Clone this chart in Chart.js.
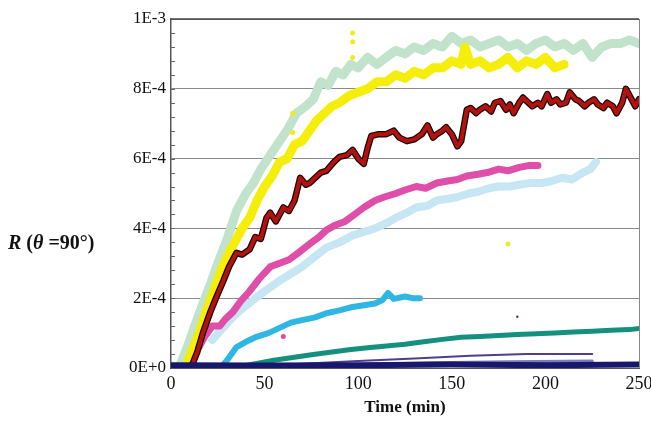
<!DOCTYPE html>
<html>
<head>
<meta charset="utf-8">
<script src="https://cdn.jsdelivr.net/npm/chart.js@4/dist/chart.umd.min.js"></script>
<style>
  html, body { margin: 0; padding: 0; background: #ffffff; }
  #wrap { position: relative; width: 651px; height: 421px; }
  #ylabel {
    position: absolute; left: 8px; top: 231px;
    font-family: "Liberation Serif", "DejaVu Serif", serif;
    font-weight: bold; font-size: 20px; color: #111; white-space: nowrap;
  }
</style>
</head>
<body>
<div id="wrap">
  <canvas id="chart" width="651" height="421"></canvas>
  <div id="ylabel"><i>R</i> (<i>θ</i> =90°)</div>
</div>
<script>
// Werte in Einheiten von 1E-4, Zeit in Minuten
const yTickLabels = ['0E+0', '2E-4', '4E-4', '6E-4', '8E-4', '1E-3'];
const xTickLabels = ['0', '50', '100', '150', '200', '250'];

const greenT = [5, 8, 12, 16, 21, 25, 30, 35, 40, 44, 48, 53, 58, 63, 67, 72, 76, 80, 84, 88, 92, 96, 100, 105, 110, 115, 120, 125, 130, 135, 140, 145, 150, 155, 160, 165, 170, 175, 180, 185, 190, 195, 200, 205, 210, 215, 220, 225, 230, 235, 240, 245, 250];
const greenR = [0.1, 0.5, 1.1, 1.7, 2.4, 3.0, 3.7, 4.5, 5.0, 5.3, 5.7, 6.1, 6.5, 6.9, 7.3, 7.5, 7.7, 8.2, 8.1, 8.5, 8.4, 8.7, 8.6, 8.9, 8.7, 8.9, 9.1, 9.0, 9.2, 9.1, 9.3, 9.2, 9.5, 9.3, 9.4, 9.2, 9.3, 9.4, 9.2, 9.3, 9.1, 9.3, 9.4, 9.2, 9.3, 9.1, 9.3, 8.9, 9.2, 9.3, 9.3, 9.4, 9.3];

const yellowT = [9, 12, 15, 18, 22, 26, 30, 34, 38, 42, 46, 50, 54, 58, 62, 66, 70, 74, 78, 82, 86, 90, 95, 100, 105, 110, 115, 120, 125, 130, 135, 140, 145, 150, 155, 157, 160, 165, 170, 175, 180, 185, 190, 195, 200, 205, 210];
const yellowR = [0.2, 0.6, 1.0, 1.5, 2.1, 2.7, 3.2, 3.6, 4.0, 4.3, 4.8, 5.2, 5.5, 5.9, 6.0, 6.4, 6.5, 6.8, 7.1, 7.3, 7.5, 7.6, 7.8, 7.9, 8.0, 8.2, 8.2, 8.4, 8.3, 8.5, 8.4, 8.6, 8.6, 8.8, 8.7, 9.2, 8.7, 8.8, 8.6, 8.7, 8.9, 8.6, 8.8, 8.7, 8.9, 8.6, 8.7];

const redT = [11, 14, 17, 21, 24, 28, 31, 35, 38, 42, 45, 48, 51, 53, 56, 60, 63, 66, 69, 72, 74, 78, 80, 83, 87, 90, 94, 97, 100, 103, 105, 107, 111, 115, 119, 122, 126, 130, 134, 137, 140, 142, 145, 147, 150, 153, 155, 158, 160, 163, 165, 168, 171, 173, 176, 179, 181, 183, 186, 188, 191, 193, 196, 198, 201, 203, 206, 208, 211, 213, 216, 218, 221, 223, 226, 228, 231, 233, 236, 238, 241, 243, 246, 248, 250];
const redR = [0.05, 0.45, 1.0, 1.6, 2.0, 2.5, 2.9, 3.3, 3.25, 3.4, 3.75, 3.7, 4.3, 4.45, 4.2, 4.6, 4.5, 4.8, 5.45, 5.25, 5.3, 5.5, 5.6, 5.65, 5.9, 6.05, 6.1, 6.25, 6.0, 5.85, 6.3, 6.65, 6.7, 6.7, 6.8, 6.6, 6.5, 6.55, 6.7, 6.95, 6.6, 6.7, 6.8, 6.9, 6.7, 6.35, 6.5, 7.4, 7.45, 7.3, 7.4, 7.5, 7.35, 7.6, 7.65, 7.4, 7.55, 7.3, 7.6, 7.75, 7.6, 7.5, 7.6, 7.5, 7.85, 7.6, 7.7, 7.55, 7.6, 7.9, 7.7, 7.65, 7.5, 7.6, 7.7, 7.55, 7.45, 7.6, 7.5, 7.3, 7.6, 8.0, 7.7, 7.5, 7.7];

const pinkT = [15, 18, 22, 26, 29, 33, 37, 42, 47, 53, 58, 63, 68, 74, 79, 83, 88, 93, 98, 103, 109, 114, 120, 125, 131, 136, 142, 147, 153, 158, 164, 169, 175, 180, 186, 191, 196];
const pinkR = [0.6, 0.9, 1.2, 1.2, 1.4, 1.6, 1.9, 2.2, 2.55, 2.9, 3.0, 3.1, 3.3, 3.55, 3.75, 3.95, 4.1, 4.2, 4.4, 4.6, 4.8, 4.9, 5.0, 5.1, 5.2, 5.15, 5.3, 5.35, 5.4, 5.5, 5.55, 5.6, 5.7, 5.65, 5.75, 5.8, 5.8];

const skyT = [22, 27, 32, 38, 44, 50, 58, 64, 70, 77, 83, 90, 97, 103, 109, 115, 120, 126, 131, 137, 142, 148, 153, 159, 164, 170, 175, 181, 186, 192, 198, 203, 209, 214, 220, 224, 227];
const skyR = [0.8, 1.1, 1.4, 1.7, 1.95, 2.2, 2.5, 2.7, 2.9, 3.2, 3.45, 3.6, 3.8, 3.9, 4.0, 4.15, 4.3, 4.45, 4.6, 4.65, 4.8, 4.85, 4.9, 5.0, 5.05, 5.15, 5.2, 5.2, 5.25, 5.3, 5.3, 5.35, 5.45, 5.4, 5.6, 5.7, 5.9];

const cyanT = [28, 31, 35, 40, 46, 52, 58, 64, 70, 77, 83, 90, 97, 103, 109, 113, 116, 119, 125, 129, 133];
const cyanR = [0.1, 0.3, 0.6, 0.75, 0.9, 1.0, 1.15, 1.3, 1.37, 1.45, 1.57, 1.65, 1.75, 1.8, 1.85, 1.95, 2.15, 1.98, 2.05, 2.0, 2.0];

const tealT = [38, 45, 55, 65, 75, 85, 95, 105, 115, 125, 135, 145, 155, 165, 175, 185, 195, 205, 215, 225, 235, 245, 250];
const tealR = [0.05, 0.12, 0.22, 0.3, 0.38, 0.45, 0.52, 0.58, 0.63, 0.68, 0.75, 0.82, 0.88, 0.9, 0.93, 0.96, 0.98, 1.0, 1.03, 1.05, 1.08, 1.1, 1.13];

const violetT = [45, 70, 100, 130, 160, 190, 225];
const violetR = [0.05, 0.12, 0.2, 0.27, 0.35, 0.4, 0.4];

const lilacT = [60, 100, 140, 180, 225];
const lilacR = [0.05, 0.1, 0.15, 0.18, 0.2];

const navyT = [0, 50, 100, 150, 200, 250];
const navyR = [0.08, 0.07, 0.08, 0.1, 0.08, 0.1];

// einzelne Ausreißer
const yellowDotT = [97, 97, 97, 65, 65, 180];
const yellowDotR = [9.6, 9.35, 8.9, 7.3, 6.75, 3.55];
const pinkDotT = [60];
const pinkDotR = [0.9];
const darkDotT = [185];
const darkDotR = [1.47];

function pts(t, r) {
    return t.map((x, i) => ({ x: x, y: r[i] }));
}

function line(data, color, width, order) {
    return {
        data: data,
        borderColor: color,
        backgroundColor: color,
        borderWidth: width,
        pointRadius: 0,
        tension: 0,
        fill: false,
        borderJoinStyle: 'round',
        borderCapStyle: 'round',
        order: order
    };
}

function dots(data, color, radius, order) {
    return {
        type: 'scatter',
        data: data,
        backgroundColor: color,
        borderWidth: 0,
        pointRadius: radius,
        showLine: false,
        order: order
    };
}

// kleine Striche an der y-Achse und Rahmen oben/rechts
const framePlugin = {
    id: 'frame',
    afterDatasetsDraw(chart) {
        const { ctx, chartArea: a, scales } = chart;
        const y = scales.y;
        ctx.save();
        ctx.strokeStyle = '#666';
        ctx.lineWidth = 1;
        for (let v = 0.4; v < 10; v += 0.4) {
            const py = Math.round(y.getPixelForValue(v)) + 0.5;
            ctx.beginPath();
            ctx.moveTo(a.left, py);
            ctx.lineTo(a.left + 4, py);
            ctx.stroke();
        }
        ctx.strokeStyle = '#444';
        ctx.lineWidth = 1.5;
        ctx.beginPath();
        ctx.moveTo(a.left, a.top);
        ctx.lineTo(a.right, a.top);
        ctx.stroke();
        ctx.strokeStyle = '#888';
        ctx.lineWidth = 1;
        ctx.beginPath();
        ctx.moveTo(a.right + 0.5, a.top);
        ctx.lineTo(a.right + 0.5, a.bottom);
        ctx.stroke();
        ctx.restore();
    }
};

const serif = '"Liberation Serif", "DejaVu Serif", serif';

new Chart(document.getElementById('chart'), {
    type: 'line',
    data: {
        datasets: [
            dots(pts(yellowDotT, yellowDotR), '#f2ea1a', 2.5, -1),
            dots(pts(pinkDotT, pinkDotR), '#d9509f', 2.5, -1),
            dots(pts(darkDotT, darkDotR), '#553344', 1.2, -1),
            line(pts(navyT, navyR), '#17176b', 6, 0),
            line(pts(violetT, violetR), '#4b3f95', 2, 1),
            line(pts(lilacT, lilacR), '#7c7cc0', 3, 1.5),
            line(pts(redT, redR), '#b3120f', 4, 2),
            line(pts(redT, redR), '#1a0505', 6.5, 3),
            line(pts(tealT, tealR), '#16907e', 5, 4),
            line(pts(cyanT, cyanR), '#2fb6e2', 6, 5),
            line(pts(pinkT, pinkR), '#df4fa9', 7, 6),
            line(pts(skyT, skyR), '#c6e6f4', 8, 7),
            line(pts(yellowT, yellowR), '#f4ee0a', 9, 8),
            line(pts(greenT, greenR), '#c2e3cb', 9, 9)
        ]
    },
    options: {
        responsive: false,
        animation: false,
        layout: { padding: { left: 0, right: 0, top: 19, bottom: 0 } },
        plugins: {
            legend: { display: false },
            tooltip: { enabled: false }
        },
        scales: {
            x: {
                type: 'linear',
                min: 0,
                max: 250,
                afterFit: (s) => { s.height = 53; s.paddingRight = 12; s.paddingLeft = 0; },
                afterBuildTicks: (s) => { s.ticks = xTickLabels.map(v => ({ value: Number(v) })); },
                ticks: {
                    color: '#111',
                    padding: 5,
                    font: { family: serif, size: 18 },
                    callback: (v, i) => xTickLabels[i]
                },
                grid: { display: false, drawTicks: false },
                border: { display: true, color: '#555', width: 1 },
                title: {
                    display: true,
                    text: 'Time (min)',
                    color: '#111',
                    font: { family: serif, size: 17, weight: 'bold' },
                    padding: { top: 0, bottom: 3 }
                }
            },
            y: {
                min: 0,
                max: 10,
                afterFit: (s) => { s.width = 171; },
                afterBuildTicks: (s) => { s.ticks = yTickLabels.map((l, i) => ({ value: i * 2 })); },
                ticks: {
                    color: '#111',
                    padding: 5,
                    font: { family: serif, size: 17 },
                    callback: (v, i) => yTickLabels[i]
                },
                grid: { color: '#8a8a8a', lineWidth: 1, drawTicks: false },
                border: { display: true, color: '#555', width: 1.5 }
            }
        }
    },
    plugins: [framePlugin]
});
</script>
</body>
</html>
